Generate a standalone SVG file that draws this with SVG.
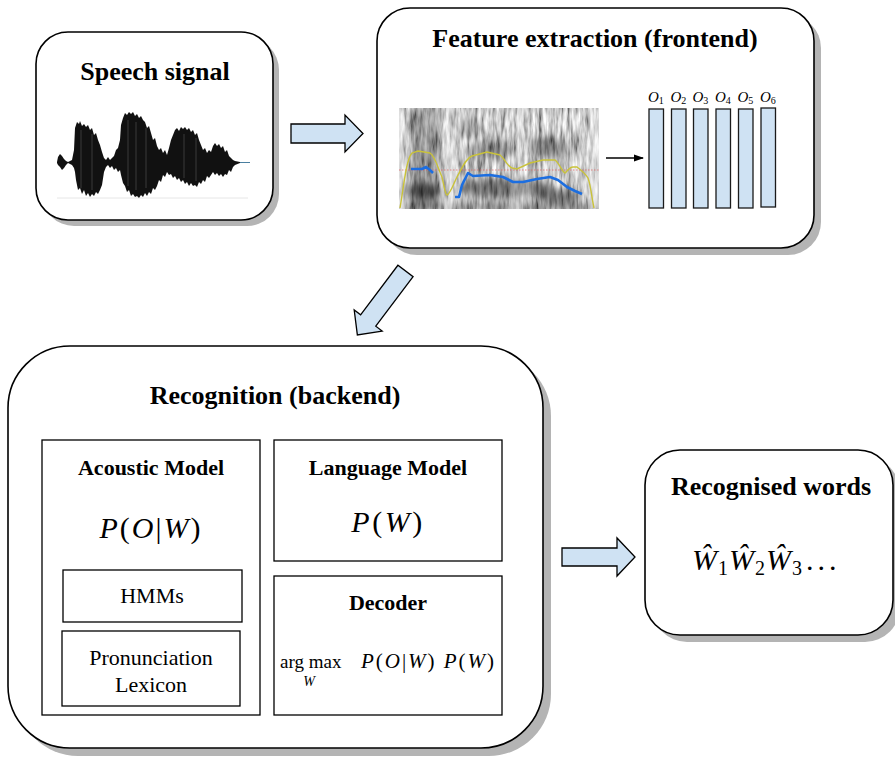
<svg xmlns="http://www.w3.org/2000/svg" width="895" height="760" viewBox="0 0 895 760">
  <style>
    .shadow { fill: #b4b4b4; }
    .box { fill: #ffffff; stroke: #000000; stroke-width: 1.6; }
    .inner { fill: #ffffff; stroke: #000000; stroke-width: 1.3; }
    .title { font-family: "Liberation Serif", "Times New Roman", serif; font-weight: bold; font-size: 26px; text-anchor: middle; fill: #000; }
    .sub { font-family: "Liberation Serif", "Times New Roman", serif; font-weight: bold; font-size: 22px; text-anchor: middle; fill: #000; }
    .plain { font-family: "Liberation Serif", "Times New Roman", serif; font-size: 22px; text-anchor: middle; fill: #000; }
    .math { font-family: "Liberation Serif", "Times New Roman", serif; fill: #000; }
    .it { font-style: italic; }
    .block { fill: #cfe2f3; stroke: #000000; stroke-width: 1.3; stroke-linejoin: miter; }
    .bar { fill: #cfe2f3; stroke: #1a1a1a; stroke-width: 1.3; }
  </style>
  <defs>
    <marker id="tip" viewBox="0 0 10 10" refX="9" refY="5" markerWidth="7" markerHeight="7" orient="auto">
      <path d="M0,1.5 L10,5 L0,8.5 z" fill="#000"/>
    </marker>
    <!-- grey spectrogram texture: streaky noise mapped to greys -->
    <filter id="grain" x="0" y="0" width="1" height="1">
      <feTurbulence type="fractalNoise" baseFrequency="0.28 0.045" numOctaves="3" seed="11"/>
      <feColorMatrix type="matrix" values="1.35 0 0 0 -0.1  1.35 0 0 0 -0.1  1.35 0 0 0 -0.1  0 0 0 0 1"/>
    </filter>
    <filter id="soft" x="-20%" y="-20%" width="140%" height="140%">
      <feGaussianBlur stdDeviation="3.5"/>
    </filter>
    <clipPath id="specClip"><rect x="399" y="108" width="200" height="101"/></clipPath>
  </defs>

  <!-- Speech signal -->
  <g id="speech">
    <rect class="shadow" x="42" y="38" width="237" height="188" rx="32"/>
    <rect class="box" x="36" y="32" width="237" height="188" rx="32"/>
    <text class="title" x="155" y="80">Speech signal</text>
    <line x1="57" y1="198" x2="248" y2="198" stroke="#e6e6e6" stroke-width="1"/>
    <line x1="57" y1="162.5" x2="250" y2="162.5" stroke="#4a7fa0" stroke-width="1"/>
    <path fill="#111" d="M57,162 L58,157 L60,154 L62,156 L64,159 L66,161 L68,162 L70,161 L72,160 L74,150 L75,128 L77,122 L79,124 L80,121 L82,126 L84,124 L86,127 L88,125 L90,130 L92,128 L94,135 L96,133 L98,140 L100,145 L102,152 L104,158 L106,160 L108,157 L110,160 L112,158 L114,156 L116,150 L118,148 L120,140 L121,125 L123,118 L125,113 L127,115 L129,112 L131,114 L133,112 L135,116 L137,114 L139,118 L141,116 L143,120 L145,122 L147,128 L149,126 L151,133 L153,140 L155,138 L157,146 L159,150 L161,148 L163,153 L165,150 L167,155 L169,148 L171,140 L173,135 L175,130 L177,128 L179,131 L181,127 L183,129 L185,127 L187,130 L189,128 L191,132 L193,130 L195,135 L197,133 L199,140 L201,145 L203,150 L205,148 L207,153 L209,150 L211,152 L213,146 L215,143 L217,146 L219,144 L221,148 L223,146 L225,152 L227,150 L229,156 L231,158 L233,160 L235,161 L240,162 L240,163 L235,165 L233,167 L231,172 L229,170 L227,175 L225,174 L223,177 L221,174 L219,176 L217,173 L215,175 L213,172 L211,175 L209,178 L207,176 L205,182 L203,180 L201,184 L199,182 L197,187 L195,185 L193,186 L191,183 L189,186 L187,182 L185,184 L183,180 L181,182 L179,178 L177,180 L175,176 L173,178 L171,174 L169,175 L167,172 L165,177 L163,175 L161,182 L159,180 L157,186 L155,190 L153,188 L151,194 L149,192 L147,196 L145,193 L143,197 L141,195 L139,198 L137,196 L135,197 L133,194 L131,196 L129,190 L127,192 L125,186 L123,183 L121,175 L120,170 L118,172 L116,168 L114,170 L112,166 L110,168 L108,165 L106,167 L104,172 L102,185 L100,190 L98,194 L96,192 L94,196 L92,194 L90,197 L88,193 L86,196 L84,190 L82,194 L80,188 L78,190 L76,180 L75,172 L74,168 L72,165 L70,164 L68,163 L66,165 L64,168 L62,170 L60,167 L58,165 L57,163 z"/>
    <path stroke="#fff" stroke-width="0.5" opacity="0.35" d="M81,130 V188 M92,134 V190 M128,120 V186 M136,122 V190 M146,128 V188 M184,134 V178 M196,138 V181"/>
  </g>

  <!-- Feature extraction -->
  <g id="frontend">
    <rect class="shadow" x="384" y="15" width="437" height="240" rx="33"/>
    <rect class="box" x="377" y="8" width="437" height="240" rx="33"/>
    <text class="title" x="595" y="47">Feature extraction (frontend)</text>
    <g clip-path="url(#specClip)">
      <rect x="399" y="108" width="200" height="101" filter="url(#grain)"/>
      <!-- blurred energy regions -->
      <g filter="url(#soft)">
        <rect x="408" y="108" width="32" height="101" fill="#000" opacity="0.25"/>
        <ellipse cx="422" cy="191" rx="20" ry="8" fill="#000" opacity="0.55"/>
        <ellipse cx="505" cy="188" rx="48" ry="10" fill="#000" opacity="0.45"/>
        <ellipse cx="558" cy="196" rx="22" ry="7" fill="#000" opacity="0.45"/>
        <ellipse cx="492" cy="150" rx="26" ry="9" fill="#000" opacity="0.3"/>
        <ellipse cx="548" cy="148" rx="20" ry="11" fill="#000" opacity="0.3"/>
        <ellipse cx="470" cy="128" rx="14" ry="10" fill="#000" opacity="0.2"/>
        <rect x="399" y="203" width="200" height="8" fill="#000" opacity="0.35"/>
        <rect x="396" y="108" width="8" height="101" fill="#fff" opacity="0.6"/>
        <rect x="446" y="108" width="9" height="101" fill="#fff" opacity="0.45"/>
        <rect x="515" y="108" width="9" height="101" fill="#fff" opacity="0.35"/>
        <rect x="590" y="108" width="12" height="101" fill="#fff" opacity="0.55"/>
      </g>
      <line x1="399" y1="170" x2="599" y2="170" stroke="#e06060" stroke-width="0.9" stroke-dasharray="1.5 1.5" opacity="0.8"/>
      <path fill="none" stroke="#c9c23a" stroke-width="1.4" d="M400,208 C404,185 406,160 412,153 L418,151 L430,153 C435,156 438,168 442,177 C444,185 445,194 447,195 C450,194 453,185 457,177 C462,168 466,158 472,156 L487,152 L500,155 C505,159 508,167 512,168 L517,169 L530,163 L543,160 L555,160 C559,163 562,171 565,173 C568,170 570,167 573,167 L577,167 C581,170 585,173 588,178 C591,186 592,200 594,208"/>
      <path fill="none" stroke="#1c6ee0" stroke-width="2.6" stroke-linejoin="round" d="M411,169 L422,169 L426,167 L430,170 L433,173"/>
      <path fill="none" stroke="#1c6ee0" stroke-width="2.6" stroke-linejoin="round" d="M455,197 L459,197 L462,185 L468,173 L473,176 L490,175 L503,177 L513,182 L523,182 L537,179 L550,177 L558,180 L567,187 L575,191 L582,194"/>
    </g>
    <rect class="bar" x="649" y="109" width="14.5" height="99"/>
    <rect class="bar" x="671.5" y="109" width="14.5" height="99"/>
    <rect class="bar" x="693.5" y="109" width="14.5" height="99"/>
    <rect class="bar" x="716" y="109" width="14.5" height="99"/>
    <rect class="bar" x="738.5" y="109" width="14.5" height="99"/>
    <rect class="bar" x="761" y="108" width="14.5" height="99"/>
    <g class="math" font-size="15">
      <text x="648" y="102"><tspan class="it">O</tspan><tspan font-size="10" dy="2">1</tspan></text>
      <text x="670.5" y="102"><tspan class="it">O</tspan><tspan font-size="10" dy="2">2</tspan></text>
      <text x="692.5" y="102"><tspan class="it">O</tspan><tspan font-size="10" dy="2">3</tspan></text>
      <text x="715" y="102"><tspan class="it">O</tspan><tspan font-size="10" dy="2">4</tspan></text>
      <text x="737.5" y="102"><tspan class="it">O</tspan><tspan font-size="10" dy="2">5</tspan></text>
      <text x="760" y="102"><tspan class="it">O</tspan><tspan font-size="10" dy="2">6</tspan></text>
    </g>
  </g>

  <!-- Recognition backend -->
  <g id="backend">
    <rect class="shadow" x="16" y="354" width="535" height="402" rx="62"/>
    <rect class="box" x="8" y="346" width="535" height="402" rx="62"/>
    <text class="title" x="275" y="404">Recognition (backend)</text>
  </g>

  <g id="acoustic-model">
    <rect class="inner" x="42" y="440" width="218" height="275"/>
    <text class="sub" x="151" y="475">Acoustic Model</text>
    <text class="math" x="151" y="538" font-size="30" text-anchor="middle" letter-spacing="2"><tspan class="it">P</tspan>(<tspan class="it">O</tspan>|<tspan class="it">W</tspan>)</text>
  </g>

  <g id="hmms">
    <rect class="inner" x="63" y="570" width="179" height="52"/>
    <text class="plain" x="152" y="603">HMMs</text>
  </g>

  <g id="lexicon">
    <rect class="inner" x="62" y="631" width="178" height="75"/>
    <text class="plain" x="151" y="665">Pronunciation</text>
    <text class="plain" x="151" y="692">Lexicon</text>
  </g>

  <g id="language-model">
    <rect class="inner" x="274" y="440" width="228" height="121"/>
    <text class="sub" x="388" y="475">Language Model</text>
    <text class="math" x="388" y="532" font-size="30" text-anchor="middle" letter-spacing="2.5"><tspan class="it">P</tspan>(<tspan class="it">W</tspan>)</text>
  </g>

  <g id="decoder">
    <rect class="inner" x="274" y="576" width="228" height="139"/>
    <text class="sub" x="388" y="610">Decoder</text>
    <text class="math" x="280" y="668" font-size="19">arg max</text>
    <text class="math it" x="309" y="686" font-size="14" text-anchor="middle">W</text>
    <text class="math" x="361" y="668" font-size="21" textLength="133" lengthAdjust="spacing"><tspan class="it">P</tspan>(<tspan class="it">O</tspan>|<tspan class="it">W</tspan>) <tspan class="it">P</tspan>(<tspan class="it">W</tspan>)</text>
  </g>

  <!-- Recognised words -->
  <g id="output">
    <rect class="shadow" x="652" y="457" width="248" height="185" rx="35"/>
    <rect class="box" x="645" y="450" width="248" height="185" rx="35"/>
    <text class="title" x="771" y="495">Recognised words</text>
    <text class="math" y="570" font-size="30"><tspan class="it" x="692">Ŵ</tspan><tspan x="718" dy="5" font-size="20">1</tspan><tspan class="it" x="729" dy="-5">Ŵ</tspan><tspan x="755" dy="5" font-size="20">2</tspan><tspan class="it" x="766" dy="-5">Ŵ</tspan><tspan x="792" dy="5" font-size="20">3</tspan><tspan x="806" dy="-5" letter-spacing="4">...</tspan></text>
  </g>

  <!-- Connectors -->
  <g id="connectors">
    <path class="block" d="M291,124 H345 V115 L363,133.5 L345,152 V143 H291 z"/>
    <path class="block" transform="translate(405.5,271) rotate(127)" d="M0,-9.5 H62 V-17.5 L80,0 L62,17.5 V9.5 H0 z"/>
    <path class="block" d="M562,548 H617 V538 L635,557 L617,576 V566 H562 z"/>
    <line x1="606" y1="158" x2="643" y2="158" stroke="#000" stroke-width="1.5" marker-end="url(#tip)"/>
  </g>
</svg>
